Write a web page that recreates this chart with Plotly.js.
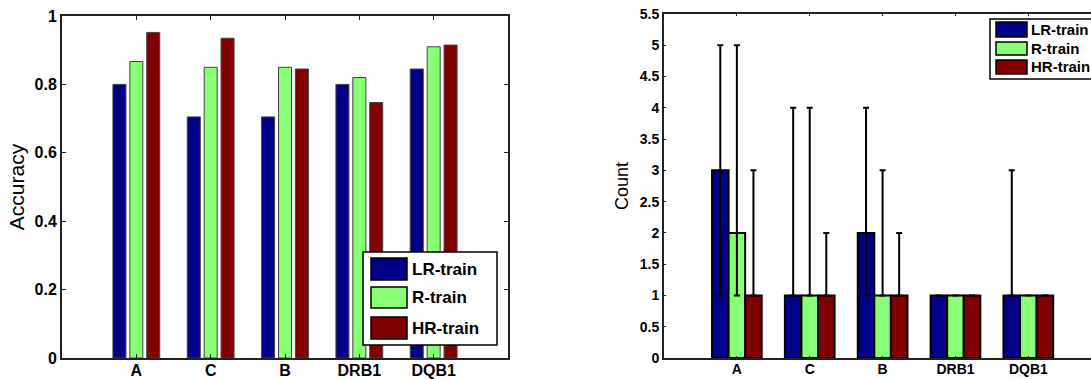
<!DOCTYPE html>
<html><head><meta charset="utf-8">
<script src="https://cdn.plot.ly/plotly-3.0.1.min.js"></script>
<style>html,body{margin:0;padding:0;background:#fff;overflow:hidden}</style>
</head><body>
<div id="chart" style="width:1091px;height:379px"></div>
<script>
// ---- data ----
const categories = ['A', 'C', 'B', 'DRB1', 'DQB1'];
const seriesNames = ['LR-train', 'R-train', 'HR-train'];
const seriesColors = ['#000088', '#88FF74', '#800000'];

const accLR = [0.80, 0.705, 0.705, 0.80, 0.845];
const accR  = [0.867, 0.85, 0.85, 0.82, 0.91];
const accHR = [0.952, 0.935, 0.845, 0.747, 0.915];

const countLR = [3, 1, 2, 1, 1];
const countR  = [2, 1, 1, 1, 1];
const countHR = [1, 1, 1, 1, 1];
const errUpLR = [2, 3, 2, 0, 2];
const errDnLR = [2, 0, 1, 0, 0];
const errUpR  = [3, 3, 2, 0, 0];
const errDnR  = [1, 0, 0, 0, 0];
const errUpHR = [2, 1, 1, 0, 0];
const errDnHR = [0, 0, 0, 0, 0];

const yTicksLeft = [0, 0.2, 0.4, 0.6, 0.8, 1];
const yTickTextLeft = ['0', '0.2', '0.4', '0.6', '0.8', '1'];
const yTicksRight = [0, 0.5, 1, 1.5, 2, 2.5, 3, 3.5, 4, 4.5, 5, 5.5];
const yTickTextRight = ['0', '0.5', '1', '1.5', '2', '2.5', '3', '3.5', '4', '4.5', '5', '5.5'];

// ---- helpers ----
const W = 1091, H = 379;
const px = x => x / W;
const py = y => 1 - y / H;
const FONT = 'Liberation Sans, Arial, Helvetica, sans-serif';

const accSeries = [accLR, accR, accHR];
const cntSeries = [countLR, countR, countHR];
const upSeries = [errUpLR, errUpR, errUpHR];
const dnSeries = [errDnLR, errDnR, errDnHR];

const traces = [];
accSeries.forEach((vals, i) => {
  traces.push({
    type: 'bar', x: categories, y: vals, name: seriesNames[i],
    xaxis: 'x', yaxis: 'y', width: 0.175,
    marker: {color: seriesColors[i], line: {color: '#444', width: 1}},
    showlegend: false, hoverinfo: 'skip'
  });
});
cntSeries.forEach((vals, i) => {
  traces.push({
    type: 'bar', x: categories, y: vals, name: seriesNames[i],
    xaxis: 'x2', yaxis: 'y2',
    marker: {color: seriesColors[i], line: {color: '#000', width: 2}},
    error_y: {type: 'data', symmetric: false, array: upSeries[i], arrayminus: dnSeries[i],
              color: '#000', thickness: 2, width: 3},
    showlegend: false, hoverinfo: 'skip'
  });
});

// ---- legends (drawn as shapes + text) ----
const shapes = [];
const annotations = [];
function legend(box, sw, rows, textX, fontSize) {
  shapes.push({type: 'rect', xref: 'paper', yref: 'paper',
    x0: px(box[0]), x1: px(box[1]), y0: py(box[3]), y1: py(box[2]),
    line: {color: '#000', width: 1.5}, fillcolor: '#fff'});
  rows.forEach((r, i) => {
    shapes.push({type: 'rect', xref: 'paper', yref: 'paper',
      x0: px(sw[0]), x1: px(sw[1]), y0: py(r[1]), y1: py(r[0]),
      line: {color: '#000', width: 1.5}, fillcolor: seriesColors[i]});
    annotations.push({xref: 'paper', yref: 'paper', x: px(textX), y: py((r[0] + r[1]) / 2),
      xanchor: 'left', yanchor: 'middle', showarrow: false, text: seriesNames[i],
      font: {family: FONT, size: fontSize, color: '#000', weight: 'bold'}});
  });
}
legend([363, 497, 252, 345], [371, 407], [[258, 280], [287, 308], [317, 339]], 410, 17);
legend([990, 1100, 19, 79], [996, 1027], [[22, 37], [42, 55], [60, 74]], 1029, 15);

const axisCommon = {
  showline: true, linecolor: '#222', linewidth: 2, ticks: 'inside', tickcolor: '#222',
  tickwidth: 1, showgrid: false, zeroline: false, fixedrange: true
};

const layout = {
  width: W, height: H,
  margin: {l: 0, r: 0, t: 0, b: 0},
  paper_bgcolor: '#fff', plot_bgcolor: '#fff',
  barmode: 'group', bargap: 0.318, bargroupgap: 0,
  font: {family: FONT, color: '#000'},
  showlegend: false,
  xaxis: Object.assign({}, axisCommon, {
    domain: [px(62), px(508)], anchor: 'y', type: 'category',
    range: [-1, 5], mirror: 'ticks', ticklen: 4, ticklabelstandoff: -3,
    tickfont: {family: FONT, size: 16, color: '#000', weight: 'bold'}
  }),
  yaxis: Object.assign({}, axisCommon, {
    domain: [py(358), py(16)], anchor: 'x', range: [0, 1],
    tickvals: yTicksLeft, ticktext: yTickTextLeft, mirror: 'ticks', ticklen: 4,
    tickfont: {family: FONT, size: 16, color: '#000', weight: 'bold'},
    title: {text: 'Accuracy', font: {family: FONT, size: 21, color: '#000'}, standoff: 4}
  }),
  xaxis2: Object.assign({}, axisCommon, {
    domain: [px(664), 1], anchor: 'y2', type: 'category',
    range: [-1, 4.86], mirror: 'ticks', ticklen: 2, ticklabelstandoff: -3,
    tickfont: {family: FONT, size: 14, color: '#000', weight: 'bold'}
  }),
  yaxis2: Object.assign({}, axisCommon, {
    domain: [py(358), py(14)], anchor: 'x2', range: [0, 5.5],
    tickvals: yTicksRight, ticktext: yTickTextRight, mirror: false, ticklen: 2,
    tickfont: {family: FONT, size: 14, color: '#000', weight: 'bold'},
    title: {text: 'Count', font: {family: FONT, size: 18, color: '#000'}, standoff: 6}
  }),
  shapes: shapes,
  annotations: annotations
};

Plotly.newPlot('chart', traces, layout, {displayModeBar: false, staticPlot: true});
</script>
</body></html>
